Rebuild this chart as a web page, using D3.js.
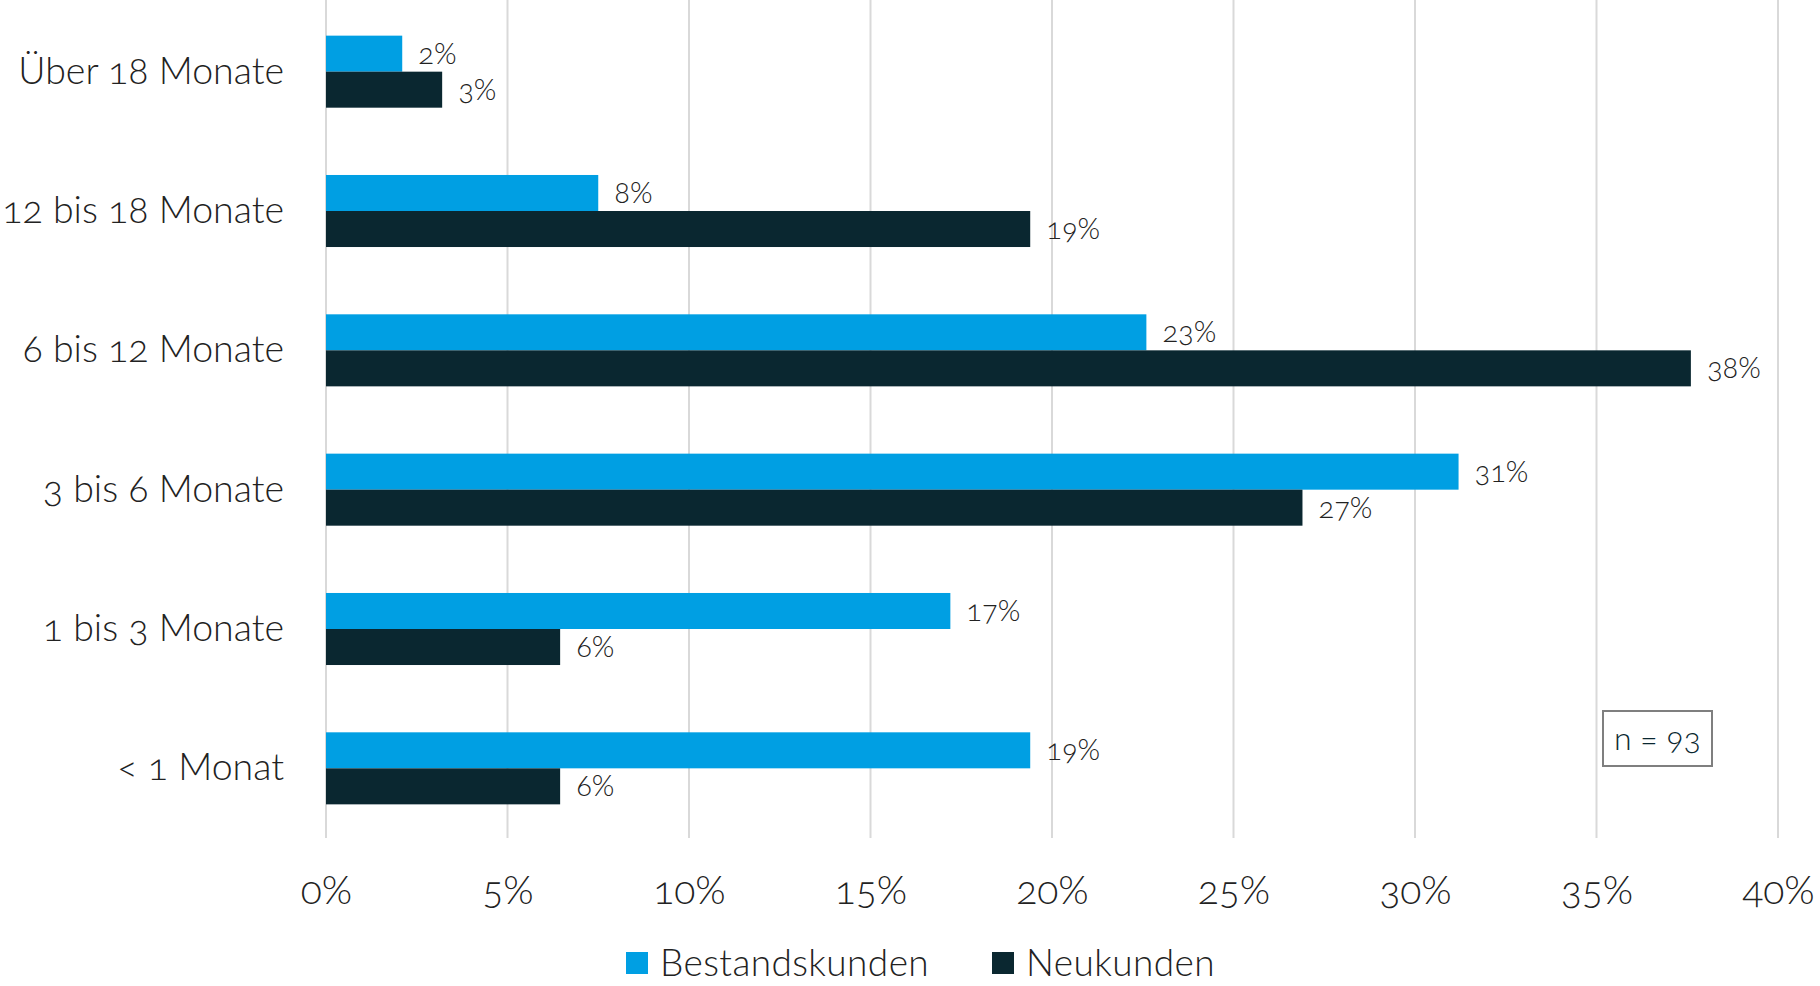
<!DOCTYPE html>
<html>
<head>
<meta charset="utf-8">
<script src="https://cdn.jsdelivr.net/npm/d3@7"></script>
<style>
  body { margin: 0; background: #fff; }
  svg text {
    font-family: Lato, "Open Sans", sans-serif;
    font-weight: 300;
    font-variant-numeric: oldstyle-nums;
    fill: #222;
  }
</style>
</head>
<body>
<div id="chart"></div>
<script>
const categories = [
  "Über 18 Monate",
  "12 bis 18 Monate",
  "6 bis 12 Monate",
  "3 bis 6 Monate",
  "1 bis 3 Monate",
  "< 1 Monat",
];
const seriesNames = ["Bestandskunden", "Neukunden"];
const bestandskunden = [2.1, 7.5, 22.6, 31.2, 17.2, 19.4];
const neukunden = [3.2, 19.4, 37.6, 26.9, 6.45, 6.45];
const xTicks = [0, 5, 10, 15, 20, 25, 30, 35, 40];
const sampleNote = "n = 93";

const colors = { Bestandskunden: "#009fe3", Neukunden: "#0a2730" };

const width = 1820;
const height = 986;
const plot = { left: 326, right: 1778, top: 2, bottom: 838 };

const rows = categories.map((c, i) => ({
  category: c,
  Bestandskunden: bestandskunden[i],
  Neukunden: neukunden[i],
}));

const svg = d3
  .select("#chart")
  .append("svg")
  .attr("width", width)
  .attr("height", height);

const xScale = d3
  .scaleLinear()
  .domain([0, 40])
  .range([plot.left, plot.right]);

const yScale = d3
  .scaleBand()
  .domain(categories)
  .range([plot.top, plot.bottom])
  .paddingInner(0.483)
  .paddingOuter(0.2415);

const subScale = d3
  .scaleBand()
  .domain(seriesNames)
  .range([0, yScale.bandwidth()]);

// gridlines
svg
  .append("g")
  .selectAll("line")
  .data(xTicks)
  .enter()
  .append("line")
  .attr("x1", (d) => xScale(d))
  .attr("x2", (d) => xScale(d))
  .attr("y1", 0)
  .attr("y2", plot.bottom)
  .attr("stroke", "#d9d9d9")
  .attr("stroke-width", 2);

// x axis labels
const xAxis = svg
  .append("g")
  .attr("transform", `translate(0,${plot.bottom})`)
  .call(
    d3
      .axisBottom(xScale)
      .tickValues(xTicks)
      .tickFormat((d) => d + "%")
      .tickSize(0)
      .tickPadding(38)
  );
xAxis.select(".domain").remove();
xAxis.selectAll("text").style("font-size", "39px").attr("fill", "#222");

// category labels
const yAxis = svg
  .append("g")
  .attr("transform", `translate(${plot.left},0)`)
  .call(d3.axisLeft(yScale).tickSize(0).tickPadding(42));
yAxis.select(".domain").remove();
yAxis.selectAll("text").style("font-size", "37.5px").attr("fill", "#222");

// bars
const groups = svg
  .append("g")
  .selectAll("g")
  .data(rows)
  .enter()
  .append("g")
  .attr("transform", (d) => `translate(0,${yScale(d.category)})`);

const items = groups.selectAll("g").data((d) =>
  seriesNames.map((s) => ({ series: s, value: d[s] }))
);

const item = items.enter().append("g");

item
  .append("rect")
  .attr("x", xScale(0))
  .attr("y", (d) => subScale(d.series))
  .attr("width", (d) => xScale(d.value) - xScale(0))
  .attr("height", subScale.bandwidth())
  .attr("fill", (d) => colors[d.series]);

item
  .append("text")
  .attr("x", (d) => xScale(d.value) + 16)
  .attr("y", (d) => subScale(d.series) + subScale.bandwidth() / 2)
  .attr("dy", "0.35em")
  .style("font-size", "29px")
  .text((d) => Math.round(d.value) + "%");

// legend
const legend = svg.append("g").attr("transform", "translate(626,952)");
const legendX = [0, 366];
seriesNames.forEach((s, i) => {
  legend
    .append("rect")
    .attr("x", legendX[i])
    .attr("y", 0)
    .attr("width", 22)
    .attr("height", 22)
    .attr("fill", colors[s]);
  legend
    .append("text")
    .attr("x", legendX[i] + 34)
    .attr("y", 11)
    .attr("dy", "0.35em")
    .style("font-size", "37px")
    .style("letter-spacing", "0.4px")
    .text(s);
});

// n = 93 box
svg
  .append("rect")
  .attr("x", 1603)
  .attr("y", 711)
  .attr("width", 109)
  .attr("height", 55)
  .attr("fill", "#fff")
  .attr("stroke", "#7f7f7f")
  .attr("stroke-width", 2);
svg
  .append("text")
  .attr("x", 1657.5)
  .attr("y", 738.5)
  .attr("dy", "0.35em")
  .attr("text-anchor", "middle")
  .style("font-size", "32px")
  .style("fill", "#0a2730")
  .text(sampleNote);
</script>
</body>
</html>
